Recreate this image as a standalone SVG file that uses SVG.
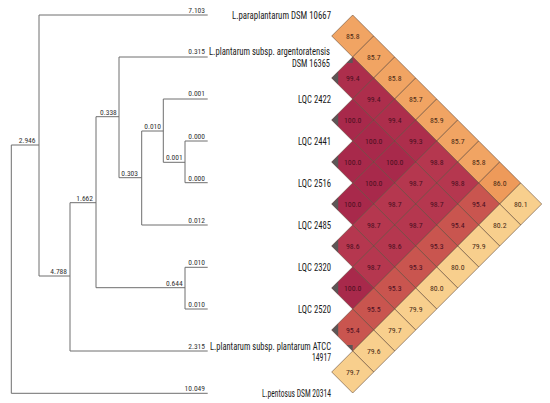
<svg xmlns="http://www.w3.org/2000/svg" width="550" height="403" viewBox="0 0 550 403">
<style>
text{font-family:"Roboto Condensed","Liberation Sans Narrow","DejaVu Sans Condensed",Roboto,"Liberation Sans",sans-serif;font-stretch:condensed}
.tax{font-size:10.5px;fill:#1a1a1a;text-anchor:end}
.tax2{font-size:10px}
.bl{font-size:7.5px;fill:#333;text-anchor:end}
.edge{fill:none;stroke:#6e6e6e;stroke-width:1}
.cell{stroke:#5a4030;stroke-opacity:0.7;stroke-width:0.8}
.c100{fill:#a8294b}.c99{fill:#ad2e4c}.c98{fill:#b5374f}.c95{fill:#c9554f}
.c86{fill:#ee9a5a}.c85{fill:#f1a463}.c80{fill:#f8cf8d}
.v{font-size:7.8px;text-anchor:middle}
.vd{fill:#4b0f1f}.vl{fill:#4a2a14}
.sh{fill:#5c5656}
</style>
<defs>
<path id="d" d="M-21 0L0-21L21 0L0 21Z"/>
</defs>
<rect width="550" height="403" fill="#fff"/>
<g id="connectors">
<path class="edge" d="M11.3 145V393.3M11.3 145H39M11.3 393.3H207.7
M39 15V276M39 15H207.7M39 276H70
M70 202.7V351M70 351H207.7M70 202.7H96
M96 116.7V287.7M96 116.7H119M96 287.7H185
M185 267.3V309M185 267.3H207.7M185 309H207.7
M119 57V177.7M119 57H207.7M119 177.7H141.7
M141.7 131V225M141.7 225H207.7M141.7 131H163.3
M163.3 99V162.3M163.3 99H207.7M163.3 162.3H185
M185 141V182.7M185 141H207.7M185 182.7H207.7"/>
</g>
<g id="branch-lengths">
<text class="bl" x="205" y="12.7">7.103</text>
<text class="bl" x="205" y="54.3">0.315</text>
<text class="bl" x="205" y="96">0.001</text>
<text class="bl" x="205" y="138.8">0.000</text>
<text class="bl" x="205" y="181">0.000</text>
<text class="bl" x="205" y="222.7">0.012</text>
<text class="bl" x="205" y="264.8">0.010</text>
<text class="bl" x="205" y="306.7">0.010</text>
<text class="bl" x="205" y="349">2.315</text>
<text class="bl" x="205" y="391">10.049</text>
<text class="bl" x="35.5" y="143">2.946</text>
<text class="bl" x="67" y="274">4.788</text>
<text class="bl" x="93" y="200.5">1.662</text>
<text class="bl" x="116.8" y="114.5">0.338</text>
<text class="bl" x="138" y="175.5">0.303</text>
<text class="bl" x="161" y="128.5">0.010</text>
<text class="bl" x="182.7" y="160">0.001</text>
<text class="bl" x="182.7" y="285.5">0.644</text>
</g>
<g id="taxon-paraplantarum"><text class="tax" x="331" y="19" textLength="99" lengthAdjust="spacingAndGlyphs">L.paraplantarum DSM 10667</text></g>
<g id="taxon-argentoratensis"><text class="tax tax2" x="330" y="54.8" textLength="121" lengthAdjust="spacingAndGlyphs">L.plantarum subsp. argentoratensis</text><text class="tax tax2" x="330" y="66.8" textLength="38" lengthAdjust="spacingAndGlyphs">DSM 16365</text></g>
<g id="taxon-lqc2422"><text class="tax" x="331" y="102.7" textLength="33" lengthAdjust="spacingAndGlyphs">LQC 2422</text></g>
<g id="taxon-lqc2441"><text class="tax" x="331" y="144.7" textLength="33" lengthAdjust="spacingAndGlyphs">LQC 2441</text></g>
<g id="taxon-lqc2516"><text class="tax" x="331" y="186.7" textLength="33" lengthAdjust="spacingAndGlyphs">LQC 2516</text></g>
<g id="taxon-lqc2485"><text class="tax" x="331" y="228.7" textLength="33" lengthAdjust="spacingAndGlyphs">LQC 2485</text></g>
<g id="taxon-lqc2320"><text class="tax" x="331" y="270.7" textLength="33" lengthAdjust="spacingAndGlyphs">LQC 2320</text></g>
<g id="taxon-lqc2520"><text class="tax" x="331" y="312.7" textLength="33" lengthAdjust="spacingAndGlyphs">LQC 2520</text></g>
<g id="taxon-plantarum"><text class="tax tax2" x="331" y="349.6" textLength="121" lengthAdjust="spacingAndGlyphs">L.plantarum subsp. plantarum ATCC</text><text class="tax tax2" x="331" y="361.4" textLength="19" lengthAdjust="spacingAndGlyphs">14917</text></g>
<g id="taxon-pentosus"><text class="tax" x="331" y="396.8" textLength="69" lengthAdjust="spacingAndGlyphs">L.pentosus DSM 20314</text></g>
<g id="heatmap">
<use href="#d" class="cell c85" x="352.7" y="36"/>
<use href="#d" class="cell c85" x="373.7" y="57"/>
<use href="#d" class="cell c85" x="394.7" y="78"/>
<use href="#d" class="cell c85" x="415.7" y="99"/>
<use href="#d" class="cell c85" x="436.7" y="120"/>
<use href="#d" class="cell c85" x="457.7" y="141"/>
<use href="#d" class="cell c85" x="478.7" y="162"/>
<use href="#d" class="cell c86" x="499.7" y="183"/>
<use href="#d" class="cell c80" x="520.7" y="204"/>
<use href="#d" class="cell c99" x="352.7" y="78"/>
<use href="#d" class="cell c99" x="373.7" y="99"/>
<use href="#d" class="cell c99" x="394.7" y="120"/>
<use href="#d" class="cell c99" x="415.7" y="141"/>
<use href="#d" class="cell c98" x="436.7" y="162"/>
<use href="#d" class="cell c98" x="457.7" y="183"/>
<use href="#d" class="cell c95" x="478.7" y="204"/>
<use href="#d" class="cell c80" x="499.7" y="225"/>
<use href="#d" class="cell c100" x="352.7" y="120"/>
<use href="#d" class="cell c100" x="373.7" y="141"/>
<use href="#d" class="cell c100" x="394.7" y="162"/>
<use href="#d" class="cell c98" x="415.7" y="183"/>
<use href="#d" class="cell c98" x="436.7" y="204"/>
<use href="#d" class="cell c95" x="457.7" y="225"/>
<use href="#d" class="cell c80" x="478.7" y="246"/>
<use href="#d" class="cell c100" x="352.7" y="162"/>
<use href="#d" class="cell c100" x="373.7" y="183"/>
<use href="#d" class="cell c98" x="394.7" y="204"/>
<use href="#d" class="cell c98" x="415.7" y="225"/>
<use href="#d" class="cell c95" x="436.7" y="246"/>
<use href="#d" class="cell c80" x="457.7" y="267"/>
<use href="#d" class="cell c100" x="352.7" y="204"/>
<use href="#d" class="cell c98" x="373.7" y="225"/>
<use href="#d" class="cell c98" x="394.7" y="246"/>
<use href="#d" class="cell c95" x="415.7" y="267"/>
<use href="#d" class="cell c80" x="436.7" y="288"/>
<use href="#d" class="cell c98" x="352.7" y="246"/>
<use href="#d" class="cell c98" x="373.7" y="267"/>
<use href="#d" class="cell c95" x="394.7" y="288"/>
<use href="#d" class="cell c80" x="415.7" y="309"/>
<use href="#d" class="cell c100" x="352.7" y="288"/>
<use href="#d" class="cell c95" x="373.7" y="309"/>
<use href="#d" class="cell c80" x="394.7" y="330"/>
<use href="#d" class="cell c95" x="352.7" y="330"/>
<use href="#d" class="cell c80" x="373.7" y="351"/>
<use href="#d" class="cell c80" x="352.7" y="372"/>
<path class="sh" d="M331.7 78l6.5-6.5v13zM331.7 120l6.5-6.5v13zM331.7 162l6.5-6.5v13zM331.7 204l6.5-6.5v13zM331.7 246l6.5-6.5v13zM331.7 288l6.5-6.5v13zM331.7 330l6.5-6.5v13zM352.7 57l-6 6h6zM352.7 351l-6 -6h6z"/>
</g>
<g id="cell-values">
<text class="v vl" x="352.7" y="38.8">85.8</text>
<text class="v vl" x="373.7" y="59.8">85.7</text>
<text class="v vl" x="394.7" y="80.8">85.8</text>
<text class="v vl" x="415.7" y="101.8">85.7</text>
<text class="v vl" x="436.7" y="122.8">85.9</text>
<text class="v vl" x="457.7" y="143.8">85.7</text>
<text class="v vl" x="478.7" y="164.8">85.8</text>
<text class="v vl" x="499.7" y="185.8">86.0</text>
<text class="v vl" x="520.7" y="206.8">80.1</text>
<text class="v vd" x="352.7" y="80.8">99.4</text>
<text class="v vd" x="373.7" y="101.8">99.4</text>
<text class="v vd" x="394.7" y="122.8">99.4</text>
<text class="v vd" x="415.7" y="143.8">99.3</text>
<text class="v vd" x="436.7" y="164.8">98.8</text>
<text class="v vd" x="457.7" y="185.8">98.8</text>
<text class="v vd" x="478.7" y="206.8">95.4</text>
<text class="v vl" x="499.7" y="227.8">80.2</text>
<text class="v vd" x="352.7" y="122.8">100.0</text>
<text class="v vd" x="373.7" y="143.8">100.0</text>
<text class="v vd" x="394.7" y="164.8">100.0</text>
<text class="v vd" x="415.7" y="185.8">98.7</text>
<text class="v vd" x="436.7" y="206.8">98.7</text>
<text class="v vd" x="457.7" y="227.8">95.4</text>
<text class="v vl" x="478.7" y="248.8">79.9</text>
<text class="v vd" x="352.7" y="164.8">100.0</text>
<text class="v vd" x="373.7" y="185.8">100.0</text>
<text class="v vd" x="394.7" y="206.8">98.7</text>
<text class="v vd" x="415.7" y="227.8">98.7</text>
<text class="v vd" x="436.7" y="248.8">95.3</text>
<text class="v vl" x="457.7" y="269.8">80.0</text>
<text class="v vd" x="352.7" y="206.8">100.0</text>
<text class="v vd" x="373.7" y="227.8">98.7</text>
<text class="v vd" x="394.7" y="248.8">98.6</text>
<text class="v vd" x="415.7" y="269.8">95.3</text>
<text class="v vl" x="436.7" y="290.8">80.0</text>
<text class="v vd" x="352.7" y="248.8">98.6</text>
<text class="v vd" x="373.7" y="269.8">98.7</text>
<text class="v vd" x="394.7" y="290.8">95.3</text>
<text class="v vl" x="415.7" y="311.8">79.9</text>
<text class="v vd" x="352.7" y="290.8">100.0</text>
<text class="v vd" x="373.7" y="311.8">95.5</text>
<text class="v vl" x="394.7" y="332.8">79.7</text>
<text class="v vd" x="352.7" y="332.8">95.4</text>
<text class="v vl" x="373.7" y="353.8">79.6</text>
<text class="v vl" x="352.7" y="374.8">79.7</text>
</g>
</svg>
